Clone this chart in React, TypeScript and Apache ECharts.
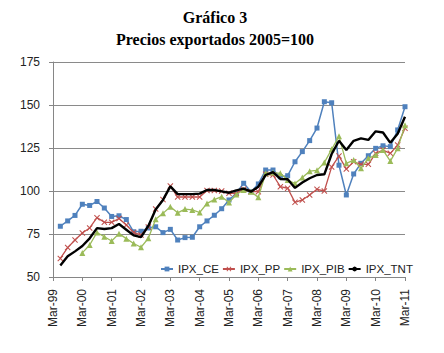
import React, { useEffect, useRef } from "react";
import * as echarts from "echarts";

const quarters: string[] = (() => {
  const out: string[] = [];
  const months = ["Mar", "Jun", "Sep", "Dec"];
  for (let y = 1999; y <= 2011; y++) {
    for (const m of months) {
      out.push(`${m}-${String(y % 100).padStart(2, "0")}`);
      if (y === 2011) break;
    }
  }
  return out;
})();

const ipxCE = [null,
  79.5, 82.6, 85.8, 92.3, 91.6, 93.9, 90.1, 85.2, 85.6, 83.4, 76.3, 76.6,
  78.5, 79.2, 75.8, 77.7, 71.5, 72.9, 73.1, 79.2, 82.6, 85.9, 89.7, 94.8,
  98.7, 104.5, 99.6, 104.1, 112.2, 112.2, 108.3, 108.9, 117.0, 122.9, 129.3, 136.6,
  151.9, 151.3, 115.0, 97.7, 109.9, 116.1, 120.5, 124.8, 126.3, 125.8, 135.5, 149.0];

const ipxPP = [null,
  60.8, 67.1, 71.5, 75.6, 78.5, 84.5, 81.8, 81.8, 84.0, 80.2, 75.9, 74.4,
  79.0, 89.5, 95.0, 102.9, 96.5, 96.5, 96.5, 96.5, 100.3, 100.3, 100.0, 98.7,
  98.7, 101.0, 99.6, 99.6, 109.7, 109.3, 102.5, 101.6, 93.4, 94.8, 97.7, 101.0,
  100.0, 114.0, 120.3, 112.8, 117.0, 115.5, 115.5, 121.9, 123.8, 121.9, 126.7, 136.5];

const ipxPIB = [null,
  null, null, null, 64.0, 68.6, 75.9, 73.4, 70.9, 75.2, 72.3, 69.5, 67.3,
  72.5, 83.6, 87.0, 90.9, 87.3, 89.5, 89.0, 87.5, 92.8, 95.0, 96.7, 93.3,
  98.0, 100.6, 99.6, 96.3, 110.3, 110.7, 110.3, 106.4, 104.3, 107.8, 111.5, 112.0,
  116.5, 124.3, 131.8, 116.1, 118.0, 113.2, 119.0, 120.9, 123.8, 117.4, 124.8, 138.2];

const ipxTNT = [null,
  56.7, 62.0, 64.9, 68.0, 72.5, 78.4, 77.9, 78.4, 80.8, 77.5, 74.2, 73.2,
  79.7, 89.2, 94.8, 102.7, 98.2, 98.2, 98.2, 98.5, 100.6, 100.6, 99.8, 99.0,
  100.4, 101.4, 99.6, 102.5, 109.3, 111.0, 107.0, 106.8, 101.8, 104.9, 107.4, 109.3,
  109.7, 121.5, 129.2, 123.8, 129.2, 130.6, 129.7, 134.7, 134.0, 128.0, 133.3, 143.2];

const titleLines = ["Gráfico 3", "Precios exportados 2005=100"];

const X_SYMBOL =
  "path://M0,1.2 L1.2,0 L5,3.8 L8.8,0 L10,1.2 L6.2,5 L10,8.8 L8.8,10 L5,6.2 L1.2,10 L0,8.8 L3.8,5 Z";

export default function App() {
  const ref = useRef<HTMLDivElement>(null);
  useEffect(() => {
    if (!ref.current) return;
    const chart = echarts.init(ref.current, null, { renderer: "svg" });
    const font = "Liberation Sans";
    chart.setOption({
      animation: false,
      backgroundColor: "#ffffff",
      graphic: [
        {
          type: "text",
          x: 215,
          y: 17,
          style: {
            text: titleLines[0],
            font: "bold 16px 'Liberation Serif'",
            fill: "#000",
            textAlign: "center",
            textVerticalAlign: "middle",
          },
        },
        {
          type: "text",
          x: 215,
          y: 39,
          style: {
            text: titleLines[1],
            font: "bold 16px 'Liberation Serif'",
            fill: "#000",
            textAlign: "center",
            textVerticalAlign: "middle",
          },
        },
      ],
      grid: { left: 53, right: 39, top: 62, bottom: 76, containLabel: false },
      legend: {
        left: 155,
        top: 258,
        itemWidth: 12,
        itemHeight: 6,
        itemGap: 3,
        textStyle: { fontFamily: font, fontSize: 11.5, color: "#222" },
        data: ["IPX_CE", "IPX_PP", "IPX_PIB", "IPX_TNT"],
      },
      xAxis: {
        type: "category",
        data: quarters,
        boundaryGap: false,
        axisLine: { lineStyle: { color: "#868686", width: 1 } },
        axisTick: { show: true, interval: 3, length: 4, lineStyle: { color: "#868686" } },
        axisLabel: {
          interval: 3,
          rotate: 90,
          margin: 12,
          fontFamily: font,
          fontSize: 12,
          color: "#222",
        },
        splitLine: { show: false },
      },
      yAxis: {
        type: "value",
        min: 50,
        max: 175,
        interval: 25,
        axisLine: { show: true, lineStyle: { color: "#868686", width: 1 } },
        axisTick: { show: true, length: 4, lineStyle: { color: "#868686" } },
        axisLabel: { fontFamily: font, fontSize: 12, color: "#222", margin: 13 },
        splitLine: { lineStyle: { color: "#8a8a8a", width: 1 } },
      },
      series: [
        {
          name: "IPX_CE",
          type: "line",
          data: ipxCE,
          color: "#4F81BD",
          symbol: "rect",
          symbolSize: 5,
          showAllSymbol: true,
          lineStyle: { width: 1.5, color: "#4F81BD" },
          itemStyle: { color: "#4F81BD" },
          z: 2,
        },
        {
          name: "IPX_PP",
          type: "line",
          data: ipxPP,
          color: "#C0504D",
          symbol: X_SYMBOL,
          symbolSize: 6,
          showAllSymbol: true,
          lineStyle: { width: 1.3, color: "#C0504D" },
          itemStyle: { color: "#C0504D" },
          z: 3,
        },
        {
          name: "IPX_PIB",
          type: "line",
          data: ipxPIB,
          color: "#9BBB59",
          symbol: "triangle",
          symbolSize: 6,
          showAllSymbol: true,
          lineStyle: { width: 1.3, color: "#9BBB59" },
          itemStyle: { color: "#9BBB59" },
          z: 4,
        },
        {
          name: "IPX_TNT",
          type: "line",
          data: ipxTNT,
          color: "#000000",
          symbol: "none",
          lineStyle: { width: 2.4, color: "#000000" },
          z: 5,
        },
      ],
    });
    return () => chart.dispose();
  }, []);
  return (
    <div
      ref={ref}
      style={{ position: "fixed", left: 0, top: 0, width: 444, height: 353 }}
    />
  );
}
